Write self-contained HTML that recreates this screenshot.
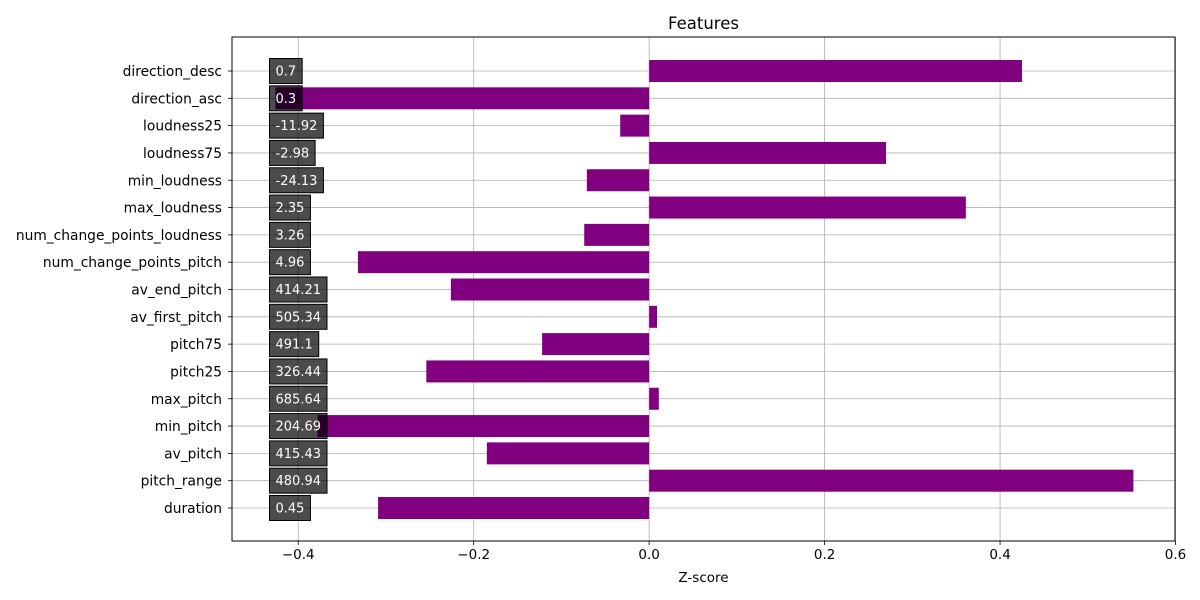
<!DOCTYPE html>
<html><head><meta charset="utf-8"><style>
html,body{margin:0;padding:0;background:#fff;}
svg{display:block;font-family:"DejaVu Sans","Liberation Sans",sans-serif;}
</style></head><body>
<svg id="chart" width="1200" height="600"></svg>
<script>
const categories=["duration","pitch_range","av_pitch","min_pitch","max_pitch","pitch25","pitch75","av_first_pitch","av_end_pitch","num_change_points_pitch","num_change_points_loudness","max_loudness","min_loudness","loudness75","loudness25","direction_asc","direction_desc"];
const zscores=[-0.309,0.552,-0.185,-0.378,0.011,-0.254,-0.122,0.009,-0.226,-0.332,-0.074,0.361,-0.071,0.270,-0.033,-0.426,0.425];
const rawLabels=["0.45","480.94","415.43","204.69","685.64","326.44","491.1","505.34","414.21","4.96","3.26","2.35","-24.13","-2.98","-11.92","0.3","0.7"];
const xTicks=[-0.4,-0.2,0.0,0.2,0.4,0.6];
const xTickLabels=["\u22120.4","\u22120.2","0.0","0.2","0.4","0.6"];

const NS="http://www.w3.org/2000/svg";
const svg=document.getElementById('chart');
const L=232,R=1175,T=37,B=541;
const xMin=-0.4755,xMax=0.5994;
const xs=v=>L+(v-xMin)/(xMax-xMin)*(R-L);
const n=categories.length;
const yTop=71,yBot=508;
const ys=i=>yBot-i*(yBot-yTop)/(n-1);
const bh=22;
function mk(tag,attrs,parent){const e=document.createElementNS(NS,tag);for(const k in attrs)e.setAttribute(k,attrs[k]);(parent||svg).appendChild(e);return e;}

xTicks.forEach((t,i)=>{
  const g=mk('line',{x1:xs(t),x2:xs(t),y1:T,y2:B,stroke:'#b0b0b0','stroke-width':0.8});
  
  
});
categories.forEach((c,i)=>{
  const g=mk('line',{x1:L,x2:R,y1:ys(i),y2:ys(i),stroke:'#b0b0b0','stroke-width':0.8});
  
  
});
categories.forEach((c,i)=>{
  const v=zscores[i];
  const x0=xs(Math.min(0,v)),x1=xs(Math.max(0,v));
  const r=mk('rect',{x:x0,y:ys(i)-bh/2,width:x1-x0,height:bh,fill:'#800080'});
  
  
});
categories.forEach((c,i)=>{
  const g=mk('g',{});
  
  
  const t=mk('text',{x:275.5,y:ys(i)+4.5,'font-size':13,fill:'#fff'},null);
  t.textContent=rawLabels[i];
  svg.appendChild(t);
  const w=t.getComputedTextLength();
  svg.removeChild(t);
  mk('rect',{x:269.5,y:ys(i)-12.5,width:w+12,height:25,fill:'rgba(0,0,0,0.7)',stroke:'#000','stroke-width':1},g);
  g.appendChild(t);
});
const fr=mk('rect',{x:L,y:T,width:R-L,height:B-T,fill:'none',stroke:'#000','stroke-width':1});


xTicks.forEach((t,i)=>{
  mk('line',{x1:xs(t),x2:xs(t),y1:B,y2:B+4,stroke:'#000','stroke-width':0.8});
  const tx=mk('text',{x:xs(t),y:B+18,'font-size':13.5,'text-anchor':'middle',fill:'#000'});
  tx.textContent=xTickLabels[i];
  
  
});
categories.forEach((c,i)=>{
  mk('line',{x1:L-4,x2:L,y1:ys(i),y2:ys(i),stroke:'#000','stroke-width':0.8});
  const tx=mk('text',{x:L-10,y:ys(i)+5,'font-size':13.8,'text-anchor':'end',fill:'#000'});
  tx.textContent=c;
  
  
});
const xt=mk('text',{x:(L+R)/2,y:582,'font-size':13.5,'text-anchor':'middle',fill:'#000'});
xt.textContent='Z-score';


const ti=mk('text',{x:(L+R)/2,y:29,'font-size':16.5,'text-anchor':'middle',fill:'#000'});
ti.textContent='Features';


</script>
</body></html>
